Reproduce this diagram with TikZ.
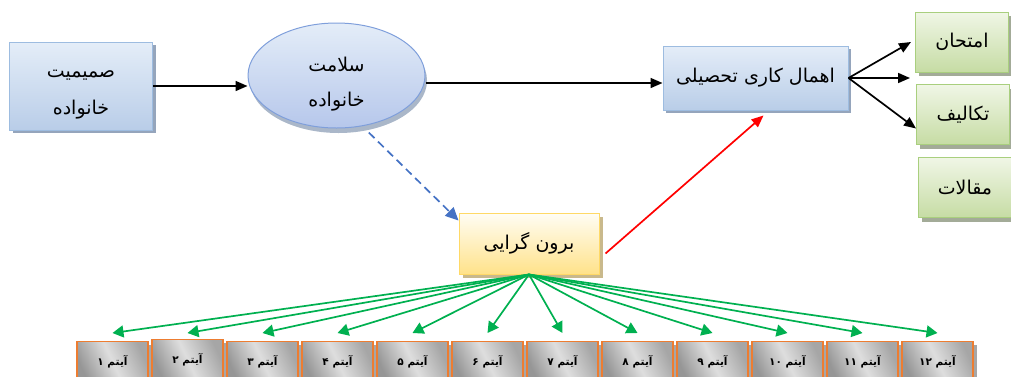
\documentclass[tikz,border=0pt]{standalone}
\usepackage{fontspec}
\usetikzlibrary{arrows.meta,shadows,shapes.geometric,calc}
\TeXXeTstate=1
\newfontfamily\fafont[Script=Arabic]{DejaVu Sans}
\newcommand{\fatext}[1]{\beginR #1\endR}

\definecolor{blueTop}{HTML}{E4EDF8}
\definecolor{blueBot}{HTML}{B9CDE8}
\definecolor{blueLine}{HTML}{9DBCE0}
\definecolor{blueShade}{HTML}{95A5BC}
\definecolor{ellLine}{HTML}{7F9FDB}
\definecolor{ellBot}{HTML}{B6C7EB}
\definecolor{greenTop}{HTML}{F0F6E6}
\definecolor{greenBot}{HTML}{C6DCA4}
\definecolor{greenLine}{HTML}{A9CF7E}
\definecolor{greenShade}{HTML}{A3AB98}
\definecolor{yelTop}{HTML}{FFFDF4}
\definecolor{yelBot}{HTML}{FFE28A}
\definecolor{yelLine}{HTML}{FFD966}
\definecolor{yelShade}{HTML}{C9B98C}
\definecolor{itemDark}{HTML}{969696}
\definecolor{itemLight}{HTML}{DEDEDE}
\definecolor{itemLine}{HTML}{ED7D31}
\definecolor{itemShade}{HTML}{A6A6A6}
\definecolor{dashBlue}{HTML}{4472C4}
\definecolor{arrGreen}{HTML}{00B050}

\tikzset{
  mainbox/.style={rectangle, inner sep=0pt, line width=1pt, font=\fafont\fontsize{19}{22}\selectfont, align=center},
  bluebox/.style={mainbox, draw=blueLine, top color=blueTop, bottom color=blueBot,
    drop shadow={shadow xshift=3pt, shadow yshift=-3pt, opacity=1, fill=blueShade}},
  ellnode/.style={ellipse, inner sep=0pt, line width=1pt, draw=ellLine, top color=blueTop, bottom color=ellBot,
    minimum width=177pt, minimum height=105pt, font=\fafont\fontsize{19}{22}\selectfont, align=center,
    drop shadow={shadow xshift=2pt, shadow yshift=-5pt, opacity=1, fill=blueShade!80}},
  greenbox/.style={mainbox, draw=greenLine, top color=greenTop, bottom color=greenBot,
    minimum width=93pt, minimum height=60pt,
    drop shadow={shadow xshift=3pt, shadow yshift=-4pt, opacity=1, fill=greenShade}},
  yelbox/.style={mainbox, draw=yelLine, top color=yelTop, bottom color=yelBot,
    minimum width=140pt, minimum height=61pt,
    drop shadow={shadow xshift=4pt, shadow yshift=-4pt, opacity=1, fill=yelShade}},
  itembox/.style={rectangle, inner sep=0pt, line width=1.4pt, draw=itemLine,
    left color=itemDark, right color=itemDark!85, middle color=itemLight, shading angle=115,
    minimum width=71pt, minimum height=40pt, font=\fafont\bfseries\fontsize{10.5}{12}\selectfont,
    drop shadow={shadow xshift=4pt, shadow yshift=-3pt, opacity=1, fill=itemShade}},
  blackarr/.style={-{Triangle[length=12pt,width=10pt]}, line width=1.7pt, black},
  greenarr/.style={-{Triangle[length=11pt,width=12pt]}, line width=1.7pt, arrGreen},
  dasharr/.style={-{Triangle[length=13pt,width=12pt]}, line width=1.7pt, dashBlue, dash pattern=on 8pt off 5pt},
  redarr/.style={-{Triangle[length=12pt,width=10pt]}, line width=1.7pt, red},
}

\begin{document}
\begin{tikzpicture}[x=1pt,y=-1pt]
\useasboundingbox (0,0) rectangle (1011,376);

% main concepts
\node[bluebox, minimum width=143pt, minimum height=88pt] (intim) at (81,86)
  {\rule{0pt}{24pt}\fatext{صمیمیت}\\[15pt]\fatext{خانواده}};
\node[ellnode] (health) at (336.5,75.5)
  {\rule{0pt}{32pt}\fatext{سلامت}\\[13pt]\fatext{خانواده}};
\node[bluebox, minimum width=185pt, minimum height=64pt] (procr) at (755.5,78)
  {\fatext{اهمال کاری تحصیلی}};
\node[yelbox] (extra) at (529,243.5) {\fatext{برون گرایی}};

% outcome indicators
\node[greenbox] (exam) at (962,42) {\fatext{امتحان}};
\node[greenbox] (task) at (963,114.5) {\fatext{تکالیف}};
\node[greenbox] (paper) at (965,187.5) {\fatext{مقالات}};

% items of the extraversion scale
\foreach \i/\d/\t in {1/۱/341,2/۲/339,3/۳/341,4/۴/341,5/۵/341,6/۶/341,7/۷/341,8/۸/341,9/۹/341,10/۱۰/341,11/۱۱/341,12/۱۲/341}{
  \node[itembox, anchor=north] (item\i) at ({112.5+75*(\i-1)},\t) {\fatext{آیتم \d}};
  \coordinate (tip\i) at ({112.5+75*(\i-1)},333);
  \draw[greenarr] (extra.south) -- (tip\i);
}

% paths between concepts
\draw[blackarr] (intim.east) -- (intim.east -| health.west);
\coordinate (procrIn) at ([yshift=-5pt]procr.west);
\draw[blackarr] (health.east |- procrIn) -- (procrIn);
\draw[dasharr, shorten <=9pt] (health.-63) -- ([yshift=-8pt]extra.north west);
\draw[redarr] ([xshift=6pt,yshift=-10pt]extra.east) -- ([xshift=8pt,yshift=-5pt]procr.south);

% paths to the indicators
\coordinate (toExam) at ([xshift=-4pt]exam.west);
\coordinate (toMid) at ($(exam.west |- procr.east)+(-5,0)$);
\coordinate (toTask) at ([yshift=-14pt]task.west);
\draw[blackarr] (procr.east) -- (toExam);
\draw[blackarr] (procr.east) -- (toMid);
\draw[blackarr] (procr.east) -- (toTask);
\end{tikzpicture}
\end{document}
